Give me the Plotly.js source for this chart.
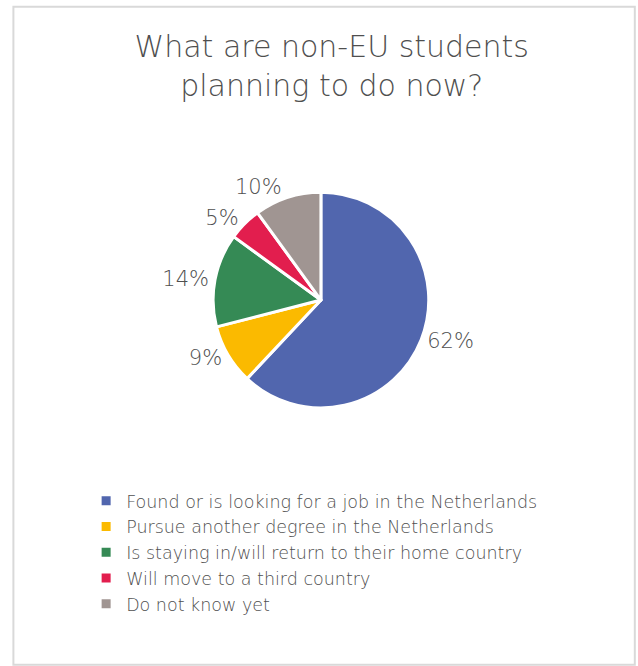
<!DOCTYPE html>
<html>
<head>
<meta charset="utf-8">
<script src="https://cdn.plot.ly/plotly-3.0.1.min.js"></script>
<style>
  html, body { margin: 0; padding: 0; background: #fff; }
  #chart { width: 638px; height: 666px; }
</style>
</head>
<body>
<div id="chart"></div>
<script>
// answers, in the order the slices run clockwise from 12 o'clock
var labels = [
    'Found or is looking for a job in the Netherlands',
    'Pursue another degree in the Netherlands',
    'Is staying in/will return to their home country',
    'Will move to a third country',
    'Do not know yet'
];
var shares = [62, 9, 14, 5, 10];
var colors = ['#5166AE', '#FBBA00', '#358A55', '#E21E4E', '#A09592'];

var textGrey = '#4f4f4f';
var fontFam = '"DejaVu Sans", sans-serif';

var pieTrace = {
    type: 'pie',
    labels: labels,
    values: shares,
    sort: false,
    direction: 'clockwise',
    rotation: 0,
    marker: {
        colors: colors,
        line: { color: '#ffffff', width: 3 }
    },
    texttemplate: '%{value}%',
    textposition: 'outside',
    textfont: { family: fontFam, size: 21, color: textGrey, weight: 300 },
    hoverinfo: 'label+percent',
    domain: { x: [0.334, 0.672], y: [0.387, 0.712] }
};

var layout = {
    width: 638,
    height: 666,
    margin: { l: 0, r: 0, t: 0, b: 0 },
    paper_bgcolor: '#ffffff',
    font: { family: fontFam, color: textGrey },
    title: {
        text: 'What are non-EU students<br>planning to do now?',
        font: { family: fontFam, size: 30, color: textGrey, weight: 300 },
        x: 0.52,
        xanchor: 'center',
        yref: 'container',
        y: 0.915,
        yanchor: 'top'
    },
    showlegend: true,
    legend: {
        orientation: 'v',
        x: 0.135,
        xanchor: 'left',
        y: 0.275,
        yanchor: 'top',
        font: { family: fontFam, size: 17.5, color: textGrey, weight: 300 },
        bgcolor: 'rgba(0,0,0,0)'
    },
    shapes: [{
        type: 'rect',
        xref: 'paper', yref: 'paper',
        x0: 0.021, x1: 0.995, y0: 0.002, y1: 0.99,
        line: { color: '#d9d9d9', width: 2 },
        fillcolor: 'rgba(0,0,0,0)'
    }]
};

Plotly.newPlot('chart', [pieTrace], layout, { displayModeBar: false });
</script>
</body>
</html>
